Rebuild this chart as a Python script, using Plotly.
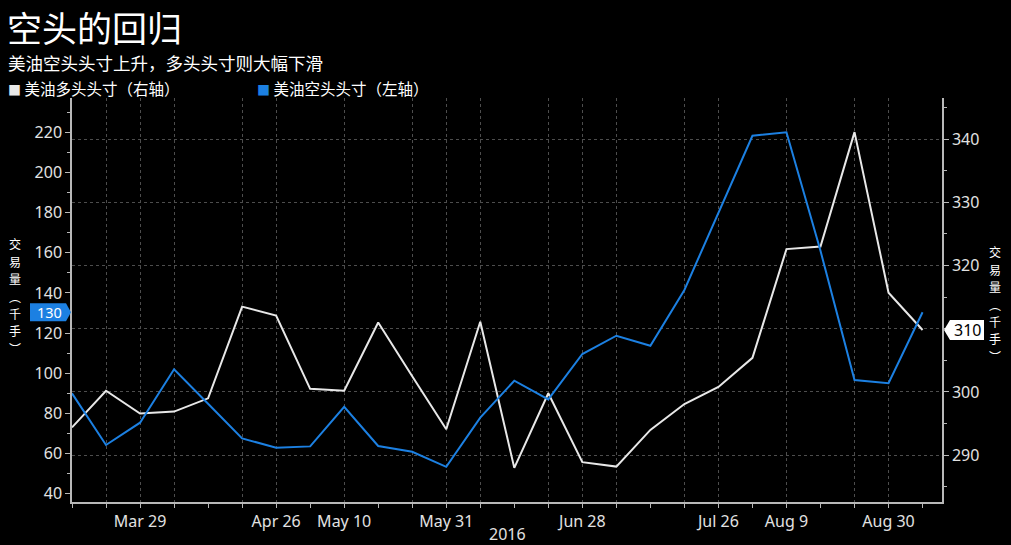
import plotly.graph_objects as go

# ---------------- data ----------------
dates = ["2016-03-15", "2016-03-22", "2016-03-29", "2016-04-05", "2016-04-12",
         "2016-04-19", "2016-04-26", "2016-05-03", "2016-05-10", "2016-05-17",
         "2016-05-24", "2016-05-31", "2016-06-07", "2016-06-14", "2016-06-21",
         "2016-06-28", "2016-07-05", "2016-07-12", "2016-07-19", "2016-07-26",
         "2016-08-02", "2016-08-09", "2016-08-16", "2016-08-23", "2016-08-30",
         "2016-09-06"]

# 美油多头头寸（右轴）
long_pos = [294.4, 300.2, 296.6, 296.9, 299.0, 313.5, 312.1, 300.5, 300.2, 311.0,
            302.5, 294.1, 311.1, 288.0, 299.8, 288.9, 288.2, 294.0, 298.1, 300.8,
            305.4, 322.6, 323.0, 341.1, 315.7, 309.8]

# 美油空头头寸（左轴）
short_pos = [90.0, 64.3, 75.4, 102.0, 84.8, 67.6, 62.9, 63.6, 83.3, 63.8,
             60.9, 53.4, 77.9, 96.3, 87.0, 109.6, 118.7, 113.7, 141.5, 180.0,
             218.3, 220.0, 161.0, 96.6, 95.1, 130.4]

grid_dates = ["2016-03-22", "2016-03-29", "2016-04-05", "2016-04-19", "2016-04-26",
              "2016-05-10", "2016-05-24", "2016-05-31", "2016-06-07", "2016-06-21",
              "2016-06-28", "2016-07-05", "2016-07-19", "2016-07-26", "2016-08-09",
              "2016-08-23", "2016-08-30"]
date_labels = {"2016-03-29": "Mar 29", "2016-04-26": "Apr 26", "2016-05-10": "May 10",
               "2016-05-31": "May 31", "2016-06-28": "Jun 28", "2016-07-26": "Jul 26",
               "2016-08-09": "Aug 9", "2016-08-30": "Aug 30"}
year_label = "2016"

left_ticks = [40, 60, 80, 100, 120, 140, 160, 180, 200, 220]
right_ticks = [290, 300, 310, 320, 330, 340]

title = "空头的回归"
subtitle = "美油空头头寸上升，多头头寸则大幅下滑"
long_name = "美油多头头寸（右轴）"
short_name = "美油空头头寸（左轴）"
axis_title_chars = ["交", "易", "量", "︵", "千", "手", "︶"]

# ---------------- style ----------------
W, H = 1011, 545
ML, MR, MT, MB = 72, 69, 98, 43
PW, PH = W - ML - MR, H - MT - MB

BLUE = "#1c80e2"
WHITE = "#e8e8e8"
AXIS = "#b8b8b8"
GRID = "#4d4d4d"
TXT = "#e2e2e2"
FONT = "Noto Sans, Noto Sans CJK SC, sans-serif"
CJK = "Noto Sans CJK SC, Noto Sans, sans-serif"


def px(x):
    return (x - ML) / PW


def py(y):
    return (H - MB - y) / PH


fig = go.Figure()

fig.add_trace(go.Scatter(x=dates, y=long_pos, mode="lines", name=long_name,
                         line=dict(color=WHITE, width=2), yaxis="y"))
fig.add_trace(go.Scatter(x=dates, y=short_pos, mode="lines", name=short_name,
                         line=dict(color=BLUE, width=2), yaxis="y2"))

ticktext = [date_labels.get(d, "") for d in grid_dates]
# tick labels hidden under the last-value tags
right_ticktext = ["" if abs(v - long_pos[-1]) < 4 else str(v) for v in right_ticks]
left_ticktext = ["" if abs(v - short_pos[-1]) < 8 else str(v) for v in left_ticks]

fig.update_layout(
    width=W, height=H,
    margin=dict(l=ML, r=MR, t=MT, b=MB, pad=0),
    paper_bgcolor="black", plot_bgcolor="black",
    showlegend=False,
    font=dict(family=FONT, color=TXT, size=16),
    xaxis=dict(
        type="date", range=["2016-03-15", "2016-09-10"],
        tickmode="array", tickvals=grid_dates, ticktext=ticktext,
        ticks="outside", ticklen=4, tickcolor=AXIS, tickwidth=1,
        showgrid=True, gridcolor=GRID, griddash="dot", gridwidth=1,
        showline=True, linecolor=AXIS, linewidth=1.5,
        tickfont=dict(size=16, color=TXT, family=FONT),
        minor=dict(tickmode="array", tickvals=dates, ticks="outside", ticklen=4,
                   tickcolor=AXIS, showgrid=False),
        zeroline=False,
    ),
    yaxis=dict(
        side="right", range=[282.6, 346.5],
        tickmode="array", tickvals=right_ticks, ticktext=right_ticktext,
        ticks="outside", ticklen=5, tickcolor=AXIS,
        minor=dict(dtick=5, ticks="outside", ticklen=3, tickcolor=AXIS, showgrid=False),
        showgrid=True, gridcolor=GRID, griddash="dot", gridwidth=1,
        showline=True, linecolor=AXIS, linewidth=1.5,
        tickfont=dict(size=16, color=TXT, family=FONT),
        zeroline=False,
    ),
    yaxis2=dict(
        side="left", overlaying="y", range=[35.9, 237.1],
        tickmode="array", tickvals=left_ticks, ticktext=left_ticktext,
        ticks="outside", ticklen=5, tickcolor=AXIS,
        minor=dict(dtick=10, ticks="outside", ticklen=3, tickcolor=AXIS, showgrid=False),
        showgrid=False,
        showline=True, linecolor=AXIS, linewidth=1.5,
        tickfont=dict(size=16, color=TXT, family=FONT),
        zeroline=False,
    ),
)

ann = []
# title & subtitle
ann.append(dict(text=title, x=px(6), y=py(0), xref="paper", yref="paper",
                xanchor="left", yanchor="top", showarrow=False, borderpad=0,
                font=dict(size=35, color="white", family=CJK)))
ann.append(dict(text=subtitle, x=px(7), y=py(63), xref="paper", yref="paper",
                xanchor="left", yanchor="middle", showarrow=False, borderpad=0,
                font=dict(size=17.5, color="white", family=CJK)))
# legend
ann.append(dict(text=f"<span style='color:{WHITE};font-size:13px'>■</span> {long_name}",
                x=px(7), y=py(87.5), xref="paper", yref="paper",
                xanchor="left", yanchor="middle", showarrow=False, borderpad=0,
                font=dict(size=15.5, color="white", family=CJK)))
ann.append(dict(text=f"<span style='color:{BLUE};font-size:13px'>■</span> {short_name}",
                x=px(256), y=py(87.5), xref="paper", yref="paper",
                xanchor="left", yanchor="middle", showarrow=False, borderpad=0,
                font=dict(size=15.5, color="white", family=CJK)))
# year label
ann.append(dict(text=year_label, x=px(507), y=py(534), xref="paper", yref="paper",
                xanchor="center", yanchor="middle", showarrow=False,
                font=dict(size=16, color=TXT, family=FONT)))
# vertical (stacked) axis titles, one character per annotation
n = len(axis_title_chars)
step = 17.4
for i, ch in enumerate(axis_title_chars):
    off = (i - (n - 1) / 2) * step
    ann.append(dict(text=ch, x=px(15), y=py(296 + off), xref="paper", yref="paper",
                    xanchor="center", yanchor="middle", showarrow=False, borderpad=0,
                    font=dict(size=12, color="white", family=CJK)))
    ann.append(dict(text=ch, x=px(995), y=py(304 + off), xref="paper", yref="paper",
                    xanchor="center", yanchor="middle", showarrow=False, borderpad=0,
                    font=dict(size=12, color="white", family=CJK)))

# last-value tags
ann.append(dict(text=f"{round(short_pos[-1])}", x=0, xshift=-23, y=short_pos[-1],
                xref="paper", yref="y2", xanchor="center", yanchor="middle",
                showarrow=False, borderpad=0,
                font=dict(size=14.5, color="white", family=FONT)))
ann.append(dict(text=f"{round(long_pos[-1])}", x=1, xshift=25, y=long_pos[-1],
                xref="paper", yref="y", xanchor="center", yanchor="middle",
                showarrow=False, borderpad=0,
                font=dict(size=16, color="black", family=FONT)))
fig.update_layout(annotations=ann)

shapes = [
    dict(type="path", xref="paper", xsizemode="pixel", xanchor=0,
         yref="y2", ysizemode="pixel", yanchor=short_pos[-1],
         path="M -42,-9 L -6,-9 L -1,0 L -6,9 L -42,9 Z",
         fillcolor=BLUE, line=dict(width=0), layer="above"),
    dict(type="path", xref="paper", xsizemode="pixel", xanchor=1,
         yref="y", ysizemode="pixel", yanchor=long_pos[-1],
         path="M 2,0 L 8,-10 L 42,-10 L 42,10 L 8,10 Z",
         fillcolor="white", line=dict(width=0), layer="above"),
]
fig.update_layout(shapes=shapes)

fig.write_html("out.html")
